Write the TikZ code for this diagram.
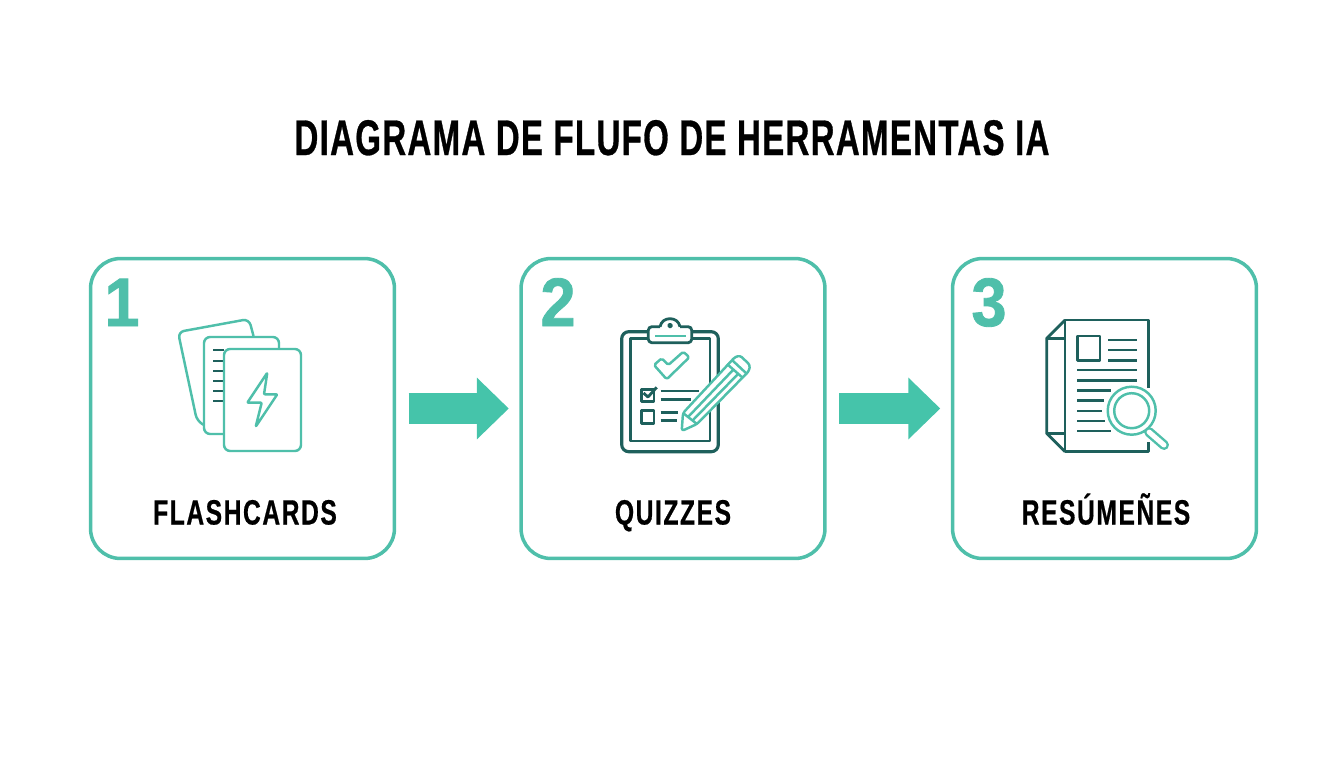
\documentclass[tikz,border=0pt]{standalone}
\usepackage{fontspec}
\usepackage{tikz}
\usetikzlibrary{arrows.meta}
\setmainfont{Liberation Sans}
\newfontfamily\titlefont[FakeStretch=0.66,LetterSpace=2.6,FakeBold=0.6]{Liberation Sans Bold}
\newfontfamily\labelfont[FakeStretch=0.70,LetterSpace=4.5,FakeBold=0.5]{Liberation Sans Bold}
\newfontfamily\numfont[FakeStretch=0.92,FakeBold=1.2]{Liberation Sans Bold}
\definecolor{fl_teal}{RGB}{79, 191, 170}
\definecolor{fl_arrow}{RGB}{69, 196, 170}
\definecolor{fl_dark}{RGB}{30, 96, 92}
\tikzstyle{box}=[rectangle,rounded corners=0.6cm,draw=fl_teal,fill=white,
  line width=2pt,minimum width=6.08cm,minimum height=6.0cm]
\tikzstyle{num}=[text=fl_teal,font=\numfont\fontsize{39}{39}\selectfont,inner sep=0pt,anchor=base]
\tikzstyle{lbl}=[text=black,font=\labelfont\fontsize{20}{21}\selectfont,inner sep=0pt,anchor=base]
\tikzstyle{ttl}=[text=black,font=\titlefont\fontsize{28.5}{30}\selectfont,inner sep=0pt,anchor=base]
\tikzstyle{flow}=[draw=fl_arrow,line width=0.62cm,
  -{Triangle[length=0.64cm,width=1.2cm]},shorten <=0.25cm,shorten >=0.21cm]
\tikzstyle{lt}=[draw=fl_teal,line width=1.4pt,rounded corners=3.5pt,line join=round]
\tikzstyle{dk}=[draw=fl_dark,line width=1.6pt,line join=round]
\begin{document}
\begin{tikzpicture}[x=0.02cm,y=-0.02cm]
    \useasboundingbox (0,0) rectangle (1344,768);
    \node [style=ttl] (title) at (672,155) {DIAGRAMA DE FLUFO DE HERRAMENTAS IA};
    \node [style=box] (flash) at (242.5,408.5) {};
    \node [style=box] (quiz) at (673,408.5) {};
    \node [style=box] (summ) at (1104.5,408.5) {};
    \draw [style=flow] (flash) to (quiz);
    \draw [style=flow] (quiz) to (summ);
    \node [style=num] (one) at (122,326) {1};
    \node [style=num] (two) at (558,326) {2};
    \node [style=num] (three) at (989,326) {3};
    \node [style=lbl] (flashtxt) at (245,524.5) {FLASHCARDS};
    \node [style=lbl] (quiztxt) at (673,524.5) {QUIZZES};
    \node [style=lbl] (summtxt) at (1106,524.5) {RESÚMEÑES};

    \draw [style=lt] (253.5,336) -- (249,319) -- (178,332) -- (197,421) -- (204,425);
    \draw [style=lt] (279,349) -- (279,337) -- (204,337) -- (204,434) -- (224,434);
    \foreach \y in {350,361,371,381,391,401}
      \draw [draw=fl_dark,line width=1.2pt] (213,\y) -- (224,\y);
    \draw [style=lt] (224,349) rectangle (301,451);
    \draw [style=lt,rounded corners=0.5pt] (267.3,372.7) -- (247.3,402.7) -- (261.7,402.7)
      -- (255.7,426.7) -- (277.3,394.3) -- (264,394.3) -- cycle;

    \draw [style=dk,line width=1.8pt,rounded corners=4pt] (621.7,331.7) rectangle (718.3,451.7);
    \draw [style=dk] (630.7,338.7) rectangle (710,441);
    \draw [style=dk,fill=white,rounded corners=2pt] (660,326.7) -- (648.3,326.7) -- (648.3,342.7)
      -- (691.7,342.7) -- (691.7,326.7) -- (680,326.7);
    \draw [style=dk] (660,326.7) .. controls (662,316) and (678,316) .. (680,326.7);
    \draw [style=dk,fill=fl_dark] (670,325.5) circle (0.03cm);
    \draw [style=lt,rounded corners=0pt] (655,336) -- (686,336);
    \draw [style=lt,rounded corners=1pt] (654,365) -- (661.7,358.3) -- (668.3,365)
      -- (683.3,351.7) -- (689.3,357.3) -- (666.7,379.3) -- cycle;
    \draw [style=dk] (641.7,389.3) rectangle (654,401.7);
    \draw [style=dk] (643.5,393) -- (648,397) -- (656.7,387.3);
    \draw [style=dk] (660.7,391) -- (699.3,391);
    \draw [style=dk] (660.7,399.3) -- (691,399.3);
    \draw [style=dk] (641.7,410.7) rectangle (654,423.3);
    \draw [style=dk] (660.7,412.3) -- (678.3,412.3);
    \draw [style=dk] (660.7,420.7) -- (676.7,420.7);
    \draw [style=lt,fill=white,rounded corners=1.5pt] (681.7,431) -- (683,413) -- (735,357)
      -- (740,355.5) -- (750,365) -- (749,371) -- (697,424) -- cycle;
    \draw [style=lt,rounded corners=0pt] (683,413) -- (697,424);
    \draw [style=lt,rounded corners=0pt] (688.5,416.5) -- (733,370);
    \draw [style=lt,rounded corners=0pt] (693,420) -- (738,374);
    \draw [style=lt,rounded corners=0pt] (727,364) -- (743,378);
    \draw [style=lt,rounded corners=0pt] (732,360) -- (747,374);

    \draw [style=dk] (1148.3,388) -- (1148.3,320) -- (1065,320) -- (1065,451.7) -- (1148.3,451.7) -- (1148.3,441.7);
    \draw [style=dk] (1065,320) -- (1046.7,338.3) -- (1046.7,433.3) -- (1065,451.7);
    \draw [style=dk] (1046.7,338.3) -- (1065,338.3);
    \draw [style=dk] (1046.7,433.3) -- (1065,433.3);
    \draw [style=dk] (1077.3,336) rectangle (1100,360.7);
    \foreach \y in {340,350,360.3}
      \draw [style=dk] (1108.3,\y) -- (1137.3,\y);
    \foreach \y/\xe in {370/1137.3,380.3/1137.3,390.3/1110.7,400.7/1104,411/1101.7,421/1105,431/1110.7}
      \draw [style=dk] (1077.3,\y) -- (\xe,\y);
    \draw [draw=fl_teal,line width=1.4pt,double=white,double distance=0.1cm,line cap=round]
      (1149,432) -- (1164,445);
    \draw [style=lt,fill=white] (1131.7,410.7) circle (0.48cm);
    \draw [style=lt,fill=white] (1131.7,410.7) circle (0.35cm);
  \end{tikzpicture}
\end{document}
